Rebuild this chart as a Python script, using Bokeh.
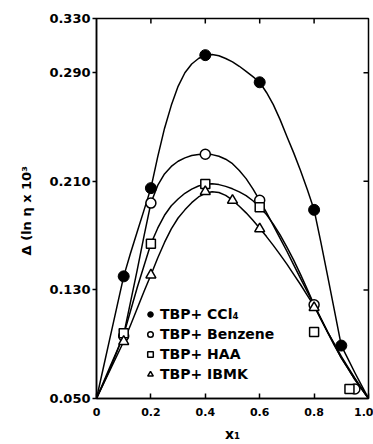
import math
from bokeh.plotting import figure
from bokeh.models import (Range1d, FixedTicker, PrintfTickFormatter, CustomJSTickFormatter,
                          Legend, LegendItem)
from bokeh.embed import file_html
from bokeh.resources import INLINE

# ---- data ----
x_ticks = [0.0, 0.2, 0.4, 0.6, 0.8, 1.0]
y_ticks = [0.050, 0.130, 0.210, 0.290, 0.330]

ccl4_x = [0.1, 0.2, 0.4, 0.6, 0.8, 0.9]
ccl4_y = [0.140, 0.205, 0.303, 0.283, 0.189, 0.089]
benz_x = [0.1, 0.2, 0.4, 0.6, 0.8, 0.95]
benz_y = [0.096, 0.194, 0.230, 0.196, 0.119, 0.057]
haa_x = [0.1, 0.2, 0.4, 0.6, 0.8, 0.93]
haa_y = [0.098, 0.164, 0.208, 0.191, 0.099, 0.057]
ibmk_x = [0.1, 0.2, 0.4, 0.5, 0.6, 0.8]
ibmk_y = [0.092, 0.141, 0.2025, 0.196, 0.175, 0.117]

# smooth fitted curves
curve_x = [0.0, 0.025, 0.05, 0.075, 0.1, 0.125, 0.15, 0.175, 0.2, 0.225,
           0.25, 0.275, 0.3, 0.325, 0.35, 0.375, 0.4, 0.425, 0.45, 0.475,
           0.5, 0.525, 0.55, 0.575, 0.6, 0.625, 0.65, 0.675, 0.7, 0.725,
           0.75, 0.775, 0.8, 0.825, 0.85, 0.875, 0.9, 0.925, 0.95, 0.975, 1.0]
ccl4_curve = [0.050, 0.0725, 0.095, 0.1175, 0.140, 0.157, 0.173, 0.189, 0.205, 0.228,
              0.249, 0.266, 0.280, 0.290, 0.2965, 0.3005, 0.303, 0.3035, 0.3025, 0.3005,
              0.298, 0.2948, 0.291, 0.2872, 0.283, 0.2755, 0.2665, 0.2555, 0.243, 0.231,
              0.218, 0.204, 0.189, 0.165, 0.140, 0.1145, 0.089, 0.079, 0.069, 0.0595, 0.050]
benz_curve = [0.050, 0.0618, 0.0735, 0.085, 0.097, 0.121, 0.145, 0.170, 0.194, 0.207,
              0.2155, 0.221, 0.2248, 0.2273, 0.229, 0.2298, 0.2300, 0.2297, 0.2285, 0.2263,
              0.223, 0.218, 0.212, 0.2045, 0.196, 0.187, 0.1775, 0.168, 0.1585, 0.1485,
              0.1385, 0.1288, 0.119, 0.109, 0.099, 0.090, 0.081, 0.073, 0.065, 0.0575, 0.050]
haa_curve = [0.050, 0.061, 0.072, 0.0845, 0.097, 0.1145, 0.132, 0.148, 0.164, 0.1755,
             0.185, 0.192, 0.197, 0.2012, 0.2043, 0.2066, 0.2078, 0.2082, 0.2076, 0.2063,
             0.2045, 0.2022, 0.1995, 0.1957, 0.191, 0.1855, 0.1785, 0.1705, 0.1615, 0.152,
             0.1415, 0.1305, 0.119, 0.1085, 0.0985, 0.089, 0.080, 0.072, 0.064, 0.057, 0.050]
ibmk_curve = [0.050, 0.0605, 0.071, 0.0815, 0.092, 0.104, 0.1165, 0.129, 0.141, 0.1535,
              0.165, 0.175, 0.183, 0.189, 0.1943, 0.1985, 0.2012, 0.2023, 0.2018, 0.1997,
              0.1962, 0.1917, 0.1868, 0.1813, 0.1755, 0.1693, 0.1628, 0.156, 0.149, 0.1415,
              0.134, 0.126, 0.118, 0.1085, 0.099, 0.0895, 0.080, 0.072, 0.064, 0.057, 0.050]

labels = ["TBP+ CCl\u2084", "TBP+ Benzene", "TBP+ HAA", "TBP+ IBMK"]

FONT = "DejaVu Sans"

p = figure(width=373, height=444, output_backend="svg", toolbar_location=None,
           x_range=Range1d(0, 1.0), y_range=Range1d(0.05, 0.33),
           min_border_left=96, min_border_right=5, min_border_top=18, min_border_bottom=42)
p.xgrid.visible = False
p.ygrid.visible = False
p.outline_line_color = "black"
p.outline_line_width = 1.5
p.background_fill_color = "white"

# curves
for cy in (ccl4_curve, benz_curve, haa_curve, ibmk_curve):
    p.line(curve_x, cy, line_color="black", line_width=1.5, line_join="round")

# points
r1 = p.scatter(ccl4_x, ccl4_y, marker="circle", size=11, fill_color="black", line_color="black")
r2 = p.scatter(benz_x, benz_y, marker="circle", size=10, fill_color="white", line_color="black", line_width=1.5)
r3 = p.scatter(haa_x, haa_y, marker="square", size=9, fill_color="white", line_color="black", line_width=1.5)
r4 = p.scatter(ibmk_x, ibmk_y, marker="triangle", size=10, fill_color="white", line_color="black", line_width=1.5)

# inward ticks on the top and right frame edges
top_y = p.y_range.end
right_x = p.x_range.end
p.scatter(x_ticks[1:-1], [top_y] * (len(x_ticks) - 2), marker="dash", angle=math.pi / 2,
          size=10, line_color="black", line_width=1.5)
p.scatter([right_x] * (len(y_ticks) - 2), y_ticks[1:-1], marker="dash",
          size=10, line_color="black", line_width=1.5)

# axes
xa = p.xaxis[0]
xa.ticker = FixedTicker(ticks=x_ticks)
xa.formatter = CustomJSTickFormatter(code="return tick == 0 ? '0' : tick.toFixed(1);")
xa.major_tick_in = 5
xa.major_tick_out = 0
xa.minor_tick_line_color = None
xa.axis_line_width = 1.5
xa.major_tick_line_width = 1.5
xa.major_label_text_font = FONT
xa.major_label_text_font_style = "bold"
xa.major_label_text_font_size = "11px"
xa.major_label_text_color = "black"
xa.major_label_standoff = 9
xa.axis_label = "x\u2081"
xa.axis_label_text_font = FONT
xa.axis_label_text_font_style = "bold"
xa.axis_label_text_font_size = "14px"
xa.axis_label_text_color = "black"
xa.axis_label_standoff = 7

ya = p.yaxis[0]
ya.ticker = FixedTicker(ticks=y_ticks)
ya.formatter = PrintfTickFormatter(format="%.3f")
ya.major_tick_in = 0
ya.major_tick_out = 4
ya.minor_tick_line_color = None
ya.axis_line_width = 1.5
ya.major_tick_line_width = 1.5
ya.major_label_text_font = FONT
ya.major_label_text_font_style = "bold"
ya.major_label_text_font_size = "13px"
ya.major_label_text_color = "black"
ya.major_label_standoff = 2
ya.axis_label = "\u0394 (ln \u03b7  x 10\u00b3"
ya.axis_label_text_font = FONT
ya.axis_label_text_font_style = "bold"
ya.axis_label_text_font_size = "13px"
ya.axis_label_text_color = "black"
ya.axis_label_standoff = 12

legend = Legend(items=[LegendItem(label=labels[0], renderers=[r1]),
                       LegendItem(label=labels[1], renderers=[r2]),
                       LegendItem(label=labels[2], renderers=[r3]),
                       LegendItem(label=labels[3], renderers=[r4])],
                location=(47, 16), background_fill_alpha=0, border_line_color=None,
                padding=0, margin=0, spacing=4, glyph_width=14, glyph_height=16,
                label_height=16, label_standoff=3, label_text_font=FONT,
                label_text_font_style="bold", label_text_font_size="14px",
                label_text_color="black")
p.add_layout(legend)

open("out.html", "w").write(file_html(p, INLINE))
